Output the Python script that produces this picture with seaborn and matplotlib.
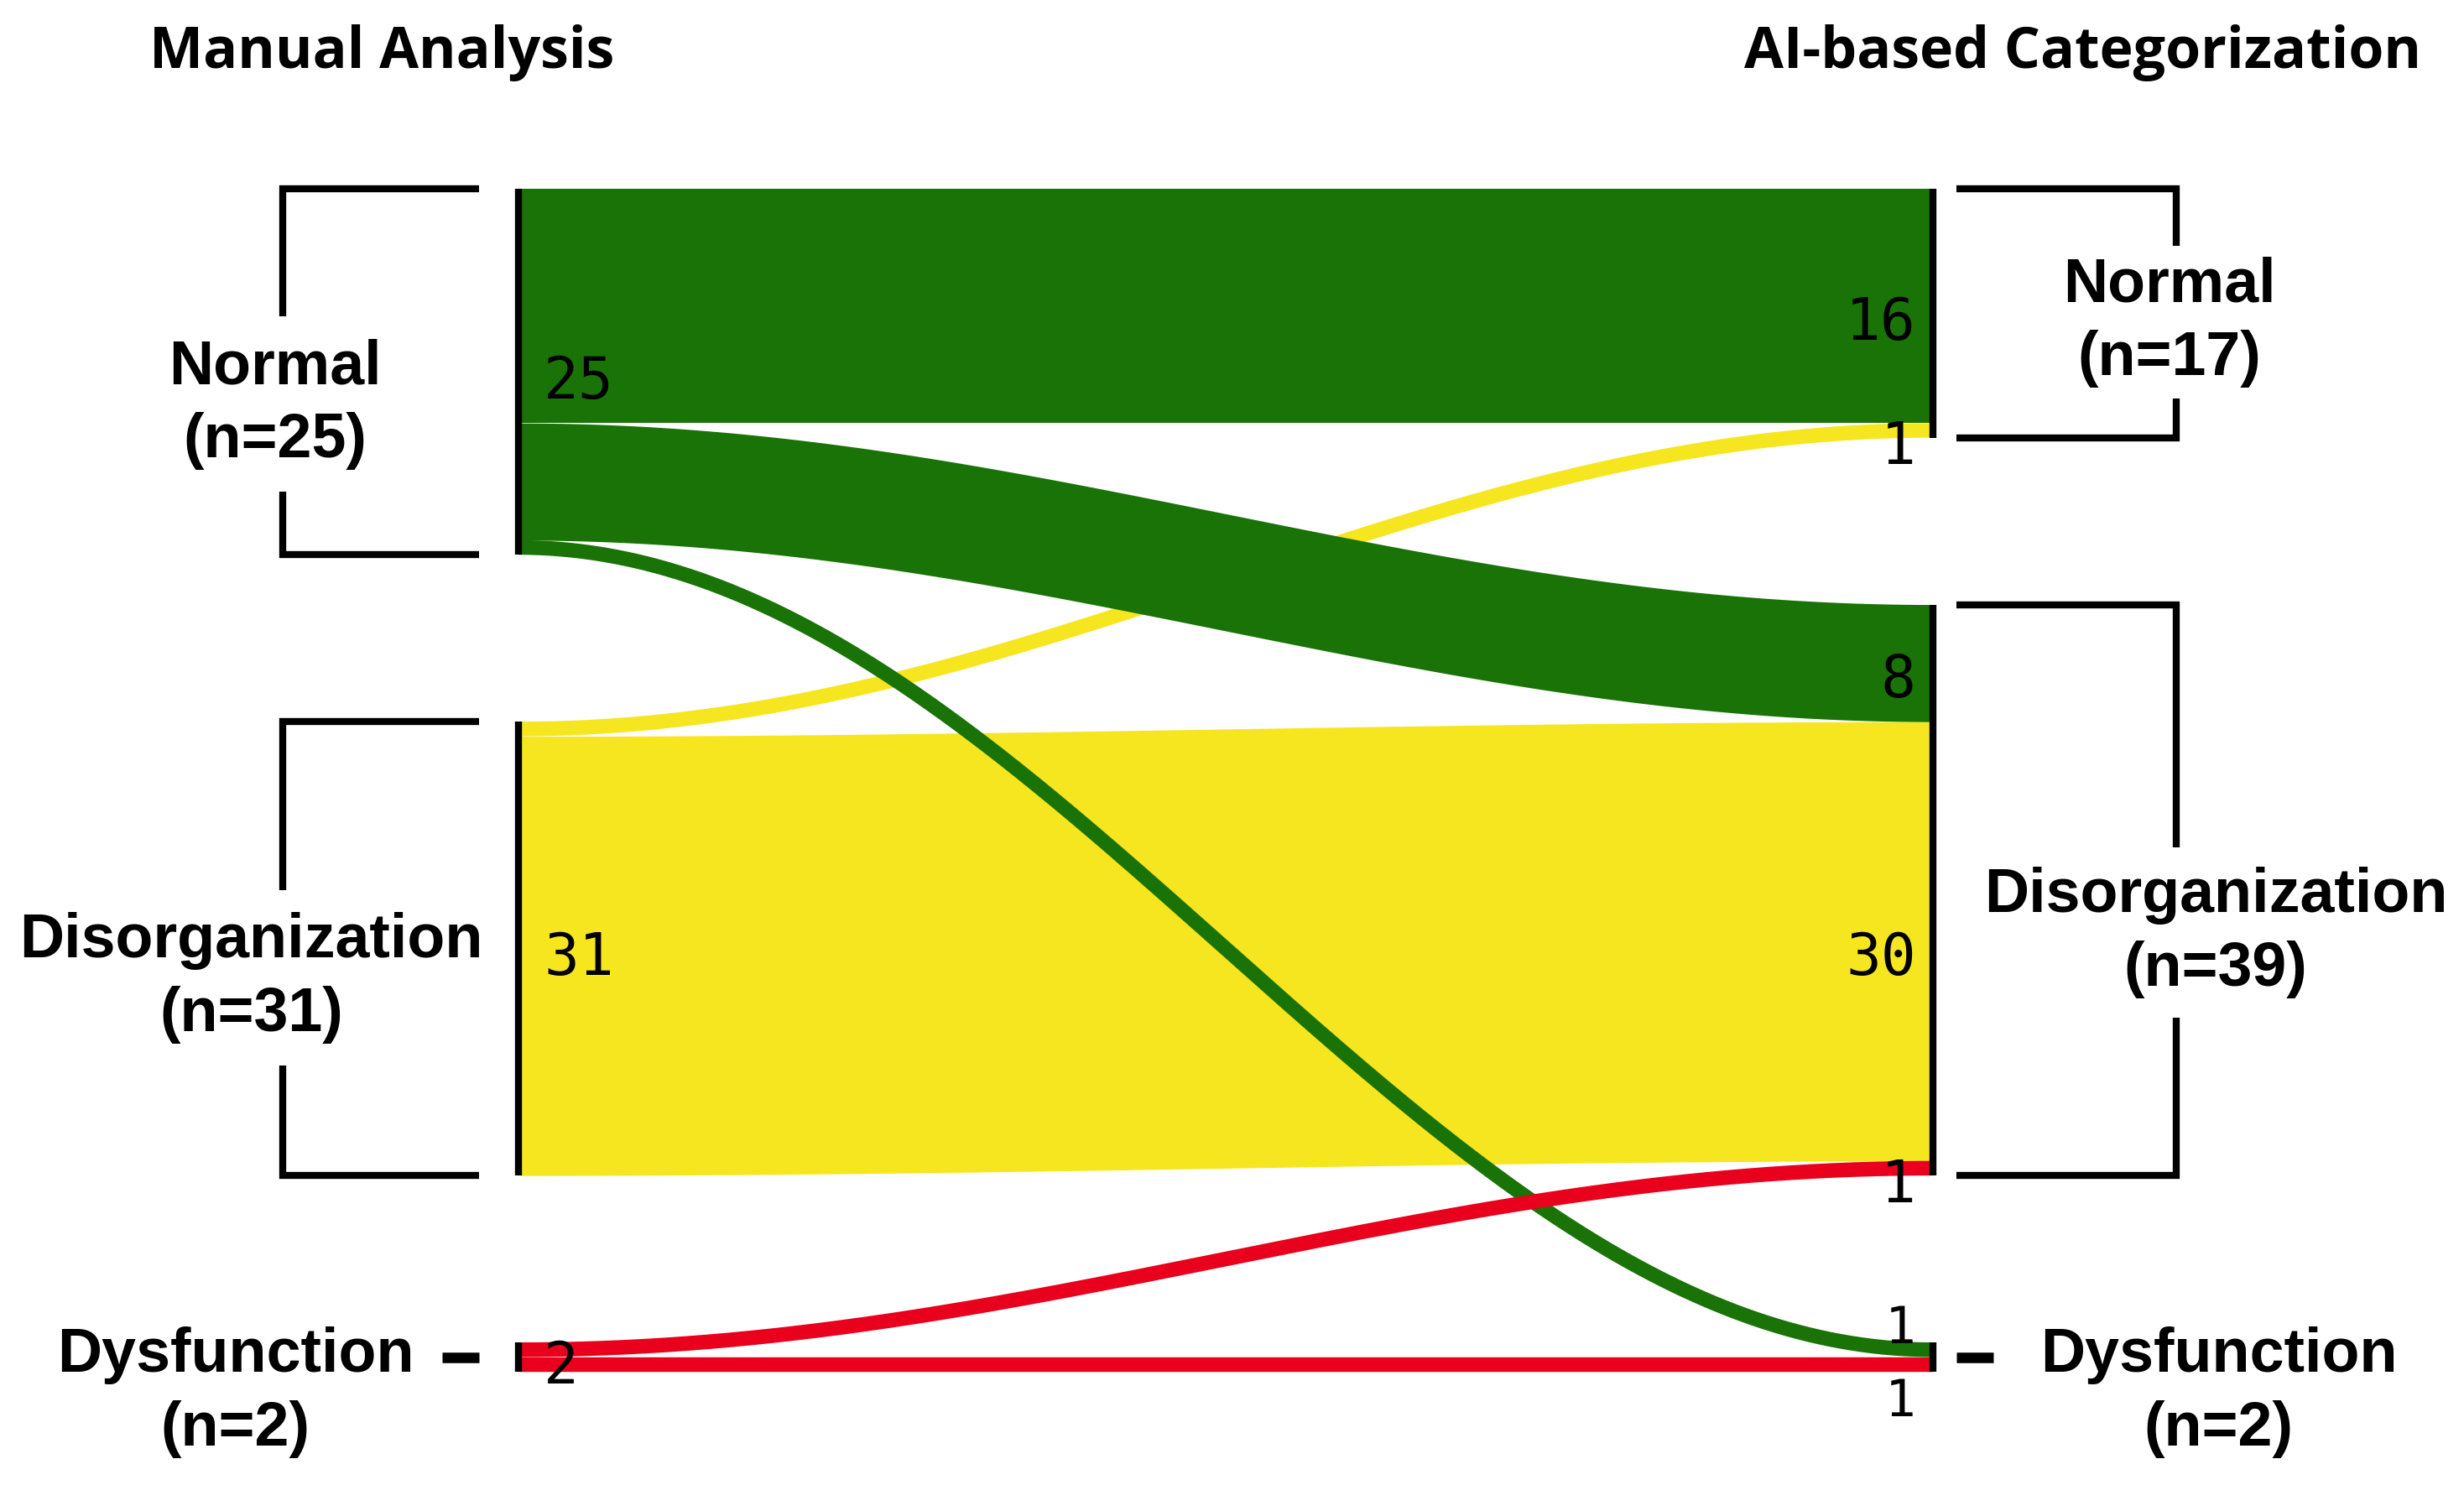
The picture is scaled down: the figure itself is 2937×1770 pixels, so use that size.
import numpy as np
import matplotlib
matplotlib.use("Agg")
import matplotlib.pyplot as plt
import seaborn as sns

# data: manual analysis (left) vs AI-based categorization (right)
categories = ["Normal", "Disorganization", "Dysfunction"]
manual_counts = [25, 31, 2]
ai_counts = [17, 39, 2]
# flows[i][j] = patients in manual category i put into AI category j
flows = [
    [16, 8, 1],
    [1, 30, 0],
    [0, 1, 1],
]
left_title = "Manual Analysis"
right_title = "AI-based Categorization"

# styling / layout
colors = ["#1a7306", "#f6e620", "#e8001c"]
NODE_GAP = 11.4
PX_PER_UNIT = 17.45
W, H = 2937, 1770
LEFT_PX, RIGHT_PX, TOP_PX = 618, 2304, 225
LW = 6.0

sns.set_theme(style="white")
label_font = ["Liberation Sans", "DejaVu Sans"]
title_font = ["Open Sans", "DejaVu Sans"]
num_font = ["DejaVu Sans Mono"]
plt.rcParams["font.family"] = ["DejaVu Sans"]
plt.rcParams["text.color"] = "black"

fig = plt.figure(figsize=(W / 100, H / 100), dpi=100)
ax = fig.add_axes([0, 0, 1, 1])
span = RIGHT_PX - LEFT_PX
ax.set_xlim(-LEFT_PX / span, (W - LEFT_PX) / span)
ax.set_ylim((H - TOP_PX) / PX_PER_UNIT, -TOP_PX / PX_PER_UNIT)
ax.axis("off")


def node_starts(counts):
    starts, pos = [], 0.0
    for c in counts:
        starts.append(pos)
        pos += c + NODE_GAP
    return starts


left_start = node_starts(manual_counts)
right_start = node_starts(ai_counts)

# band geometry
left_off = list(left_start)
bands = {}
for i in range(len(categories)):
    for j in range(len(categories)):
        v = flows[i][j]
        if v == 0:
            continue
        bands[(i, j)] = (left_off[i], None, v)
        left_off[i] += v
for j in range(len(categories)):
    pos = right_start[j]
    for i in range(len(categories)):
        if flows[i][j]:
            y0, _, v = bands[(i, j)]
            bands[(i, j)] = (y0, pos, v)
            pos += v

draw_order = [(1, 1), (1, 0), (0, 0), (0, 1), (0, 2), (2, 1), (2, 2)]
t = np.linspace(0, 1, 400)
s = (1 - np.cos(np.pi * t)) / 2
for i, j in draw_order:
    y0, y1, v = bands[(i, j)]
    top = y0 + (y1 - y0) * s
    if v <= 2:
        # thin links keep an even width along the curve
        ax.plot(t, top + v / 2, color=colors[i], lw=v * PX_PER_UNIT * 0.72,
                solid_capstyle="butt", zorder=2)
    else:
        ax.fill_between(t, top, top + v, color=colors[i], lw=0, zorder=2)

# node bars
for starts, counts, x in [(left_start, manual_counts, 0.0), (right_start, ai_counts, 1.0)]:
    for y, c in zip(starts, counts):
        ax.plot([x, x], [y, y + c], color="black", lw=LW, solid_capstyle="butt", zorder=4)

# value labels
for i, c in enumerate(manual_counts):
    ax.text(0.018, left_start[i] + c / 2 + 0.7, str(c), ha="left", va="center",
            fontsize=50, family=num_font, color="black", zorder=5)
# the two links into the small node get pushed apart and set a bit smaller
right_nudge = {(0, 2): -1.4, (2, 2): 2.6}
for (i, j), (y0, y1, v) in bands.items():
    small = (i, j) in right_nudge
    ax.text(0.988, y1 + v / 2 + right_nudge.get((i, j), 1.2), str(v), ha="right",
            va="center", fontsize=44 if small else 50, family=num_font,
            color="black", zorder=5)

# brackets and category labels
sides = [
    (left_start, manual_counts, -0.1667, -0.028, [-0.172, -0.189, -0.200],
     [2.2, 2.0, 2.4], [6.0, 6.0]),
    (right_start, ai_counts, 1.172, 1.0166, [1.167, 1.200, 1.202],
     [0.6, 2.9, 2.4], [5.2, 5.8]),
]
for starts, counts, xv, xe, xt, shift, half in sides:
    for k, (y, c) in enumerate(zip(starts, counts)):
        mid = y + c / 2
        yc = mid + shift[k]
        if c > 2:
            ax.plot([xe, xv, xv], [y, y, yc - half[k]], color="black", lw=LW,
                    solid_capstyle="butt", solid_joinstyle="miter", zorder=4)
            ax.plot([xv, xv, xe], [yc + half[k], y + c, y + c], color="black", lw=LW,
                    solid_capstyle="butt", solid_joinstyle="miter", zorder=4)
        else:
            dash = 0.026 if xe > 0.5 else -0.026
            ax.plot([xe, xe + dash], [mid, mid], color="black", lw=LW + 3,
                    solid_capstyle="butt", zorder=4)
        ax.text(xt[k], yc - 2.5, categories[k], ha="center", va="center",
                fontsize=53, fontweight="bold", family=label_font, color="black")
        ax.text(xt[k], yc + 2.5, f"(n={c})", ha="center", va="center",
                fontsize=53, fontweight="bold", family=label_font, color="black")

ax.text(-0.0967, -9.3, left_title, ha="center", va="center", fontsize=49,
        fontweight="bold", family=title_font, color="black")
ax.text(1.1056, -9.3, right_title, ha="center", va="center", fontsize=49,
        fontweight="bold", family=title_font, color="black")

fig.savefig("out.png", dpi=100, facecolor="white")
